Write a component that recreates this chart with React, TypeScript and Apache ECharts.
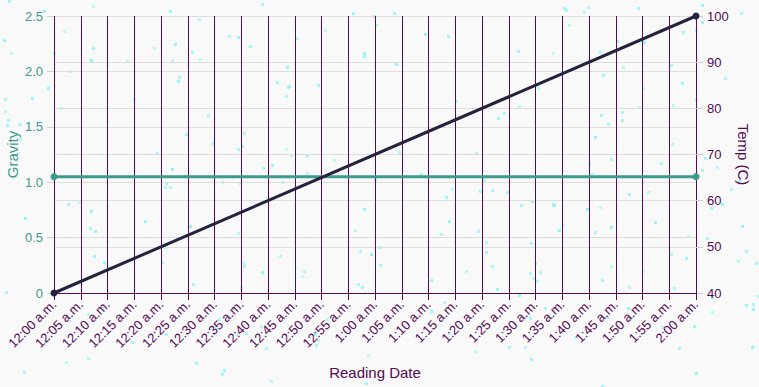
import React, { useEffect, useRef } from "react";
import * as echarts from "echarts";

const categories = [
  "12:00 a.m.", "12:05 a.m.", "12:10 a.m.", "12:15 a.m.", "12:20 a.m.", "12:25 a.m.",
  "12:30 a.m.", "12:35 a.m.", "12:40 a.m.", "12:45 a.m.", "12:50 a.m.", "12:55 a.m.",
  "1:00 a.m.", "1:05 a.m.", "1:10 a.m.", "1:15 a.m.", "1:20 a.m.", "1:25 a.m.",
  "1:30 a.m.", "1:35 a.m.", "1:40 a.m.", "1:45 a.m.", "1:50 a.m.", "1:55 a.m.", "2:00 a.m.",
];
const gravityPoints: [string, number][] = [
  ["12:00 a.m.", 1.05],
  ["2:00 a.m.", 1.05],
];
const tempPoints: [string, number][] = [
  ["12:00 a.m.", 40],
  ["2:00 a.m.", 100],
];

const TEAL = "#3b9b8c";
const PURPLE = "#560a56";
const NAVY = "#25223f";
const FONT = "Liberation Sans, Arial, sans-serif";

// decorative speckles (deterministic)
function speckles(w: number, h: number, n: number) {
  let s = 12345;
  const rnd = () => {
    s = (s * 1103515245 + 12345) % 2147483648;
    return s / 2147483648;
  };
  const out: any[] = [];
  for (let i = 0; i < n; i++) {
    const x = Math.floor(rnd() * w);
    const y = Math.floor(rnd() * h);
    out.push({
      type: "rect",
      silent: true,
      z: -1,
      shape: { x, y, width: 3, height: 3 },
      style: { fill: "#86f5f5", opacity: 0.5 + rnd() * 0.4 },
    });
  }
  return out;
}

export default function App() {
  const ref = useRef<HTMLDivElement>(null);
  useEffect(() => {
    document.body.style.margin = "0";
    const chart = echarts.init(ref.current!, undefined, { renderer: "svg" });
    chart.setOption({
      animation: false,
      backgroundColor: "#f9f9f9",
      textStyle: { fontFamily: FONT },
      graphic: speckles(759, 387, 260),
      grid: { left: 54, right: 63, top: 16, bottom: 94, outerBoundsMode: "none", containLabel: false },
      xAxis: {
        type: "category",
        data: categories,
        boundaryGap: false,
        name: "Reading Date",
        nameLocation: "middle",
        nameGap: 72,
        nameMoveOverlap: false,
        nameTextStyle: { color: PURPLE, fontSize: 15, fontFamily: FONT },
        axisLine: { lineStyle: { color: PURPLE, width: 1 } },
        axisTick: { show: true, length: 7, lineStyle: { color: PURPLE, width: 1 } },
        axisLabel: { color: PURPLE, rotate: 45, fontSize: 13, margin: 9, interval: 0, fontFamily: FONT },
        splitLine: { show: true, lineStyle: { color: PURPLE, width: 1 } },
      },
      yAxis: [
        {
          type: "value",
          min: 0,
          max: 2.5,
          interval: 0.5,
          name: "Gravity",
          nameLocation: "middle",
          nameGap: 34,
          nameMoveOverlap: false,
          nameTextStyle: { color: TEAL, fontSize: 15, fontFamily: FONT },
          axisLine: { show: false },
          axisTick: { show: true, length: 7, lineStyle: { color: "#d0d0d0" } },
          axisLabel: {
            color: TEAL,
            fontSize: 13,
            margin: 11,
            fontFamily: FONT,
            formatter: (v: number) => (v === 0 ? "0" : v.toFixed(1)),
          },
          splitLine: { show: true, lineStyle: { color: "#dddddd" } },
        },
        {
          type: "value",
          min: 40,
          max: 100,
          interval: 10,
          name: "Temp (C)",
          nameLocation: "middle",
          nameGap: 40,
          nameMoveOverlap: false,
          nameRotate: -90,
          nameTextStyle: { color: PURPLE, fontSize: 15, fontFamily: FONT },
          axisLine: { show: false },
          axisTick: { show: true, length: 7, lineStyle: { color: "#d0d0d0" } },
          axisLabel: { color: PURPLE, fontSize: 13, margin: 11, fontFamily: FONT },
          splitLine: { show: true, lineStyle: { color: "#dddddd" } },
        },
      ],
      series: [
        {
          name: "Gravity",
          type: "line",
          yAxisIndex: 0,
          data: gravityPoints,
          symbol: "circle",
          symbolSize: 7,
          showAllSymbol: true,
          lineStyle: { color: TEAL, width: 3 },
          itemStyle: { color: TEAL },
          z: 3,
        },
        {
          name: "Temp",
          type: "line",
          yAxisIndex: 1,
          data: tempPoints,
          symbol: "circle",
          symbolSize: 7,
          showAllSymbol: true,
          lineStyle: { color: NAVY, width: 3 },
          itemStyle: { color: NAVY },
          z: 4,
        },
      ],
    });
    return () => chart.dispose();
  }, []);
  return <div ref={ref} style={{ width: 759, height: 387 }} />;
}
